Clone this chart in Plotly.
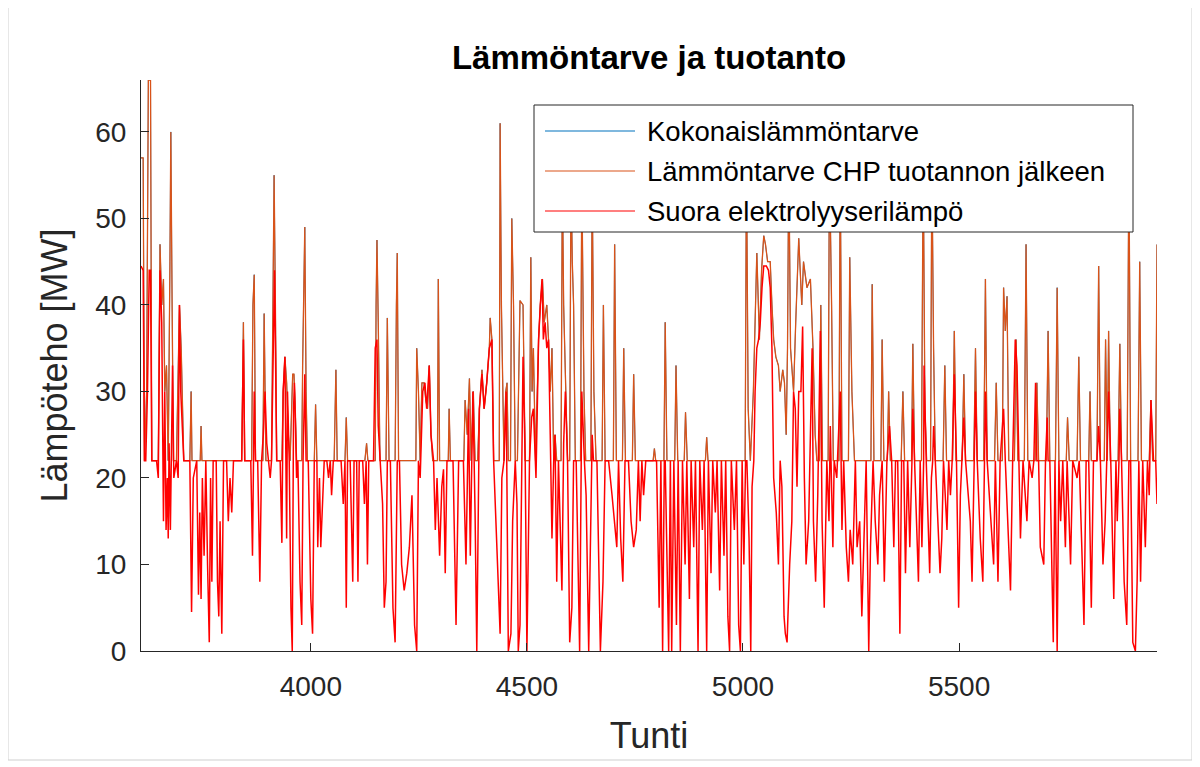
import plotly.graph_objects as go

# Lämmöntarve CHP tuotannon jälkeen (orange), hour / MW
hours_after_chp = [
    3607, 3612, 3615, 3620, 3624, 3629, 3632, 3647, 3651, 3655, 3659, 3662, 3666, 3670, 3674, 3676,
    3679, 3682, 3689, 3696, 3700, 3703, 3706, 3720, 3723, 3725, 3744, 3746, 3748, 3840, 3844, 3847,
    3863, 3866, 3869, 3872, 3889, 3892, 3896, 3909, 3912, 3915, 3918, 3921, 3933, 3936, 3940, 3944,
    3948, 3952, 3958, 3961, 3964, 3967, 3979, 3981, 3986, 3989, 3992, 4008, 4011, 4014, 4054, 4058,
    4061, 4079, 4082, 4085, 4125, 4129, 4132, 4149, 4151, 4153, 4156, 4160,
    4174, 4177, 4181, 4195, 4198, 4200, 4203, 4243, 4245, 4249, 4253, 4257, 4262, 4266, 4270, 4274,
    4278, 4282, 4293, 4295, 4298, 4318, 4320, 4323, 4354, 4357, 4362, 4367, 4371, 4376, 4380, 4386,
    4390, 4396, 4401, 4407, 4413, 4415, 4419, 4423, 4436, 4438, 4441, 4443, 4447, 4451, 4454, 4457,
    4462, 4465, 4469, 4473, 4478, 4484, 4491, 4496, 4506, 4509, 4512, 4515, 4520, 4524, 4527, 4531,
    4536, 4540, 4546, 4550, 4554, 4558, 4562, 4565, 4569, 4579, 4582, 4585, 4589, 4594, 4599, 4602,
    4605, 4608, 4612, 4624, 4627, 4632, 4636, 4648, 4651, 4655, 4660, 4674, 4677, 4681, 4700, 4703,
    4707, 4721, 4724, 4728, 4744, 4747, 4751,
    4792, 4795, 4798, 4817, 4820, 4824, 4842, 4845, 4849, 4864, 4867, 4871, 4913, 4916, 4919, 5005,
    5008, 5012, 5017, 5024, 5029, 5032, 5038, 5043, 5048, 5052, 5057, 5063, 5067, 5071, 5076, 5082,
    5086, 5092, 5096, 5100, 5103, 5106, 5110, 5117, 5122, 5129, 5136, 5140, 5148, 5156, 5162, 5167,
    5171, 5177, 5180, 5184, 5197, 5200, 5205, 5209, 5222, 5225, 5229, 5244, 5247, 5252, 5258, 5296,
    5299, 5303, 5319, 5322, 5326, 5334, 5337, 5341,
    5366, 5370, 5374, 5390, 5393, 5397, 5413, 5417, 5421, 5425, 5434, 5437, 5441, 5445, 5463, 5467,
    5471, 5485, 5489, 5493, 5507, 5511, 5515, 5534, 5538, 5542, 5557, 5561, 5565, 5582, 5586, 5590,
    5600, 5603, 5607, 5611, 5615, 5628, 5632, 5636, 5651, 5655, 5659, 5676, 5680, 5684, 5702, 5706,
    5710, 5723, 5727, 5731, 5748, 5751, 5755, 5773, 5777, 5781, 5800, 5803, 5806, 5819, 5823, 5827,
    5836, 5839, 5843, 5846, 5850, 5868, 5872, 5876, 5889, 5893, 5897, 5914, 5918, 5922, 5940, 5944,
    5948, 5955, 5958,
]
demand_after_chp = [
    57, 57, 22, 30, 66, 66, 22, 22, 47, 40, 43, 30, 33, 22, 45, 60,
    40, 22, 22, 40, 35, 27, 22, 22, 30, 22, 22, 26, 22, 22, 38, 22,
    22, 40, 43.5, 22, 22, 39, 22, 22, 40, 55, 40, 22, 22, 30, 34, 31,
    25, 22, 32, 32, 28, 22, 22, 33, 49, 30, 22, 22, 28.5, 22, 22, 32.5,
    22, 22, 27, 22, 22, 24, 22, 22, 40, 47.5, 38, 22,
    22, 38.5, 22, 22, 40, 46, 22, 22, 35, 30, 22, 31, 31, 29, 28, 33,
    25, 22, 22, 43, 22, 22, 28, 22, 22, 29, 25, 31.5, 22, 30, 22, 22,
    28, 32.5, 28, 31, 35, 38.5, 36, 22, 22, 61, 40, 35, 22, 30, 31, 22,
    22, 50, 40, 22, 22, 40.5, 40, 22, 22, 45.5, 30, 35, 22, 30, 36, 40,
    43, 38, 40, 36, 30, 35, 22, 25, 22, 22, 55, 40, 32, 22, 22, 55,
    45, 40, 22, 22, 55, 30, 22, 22, 55, 30, 22, 22, 40, 22, 22, 47,
    22, 22, 35, 22, 22, 32, 22,
    22, 23.4, 22, 22, 38, 22, 22, 33, 22, 22, 27.6, 22, 22, 24.7, 22, 22,
    57, 28, 22, 30, 40, 46, 36, 44, 48, 47, 45, 45, 40, 36, 34, 33,
    30, 32.5, 31, 25, 35, 57, 35, 30, 38, 47.7, 40, 45, 42, 43, 35, 25,
    22, 22, 40, 22, 22, 57, 40, 22, 22, 57, 22, 22, 45.5, 30, 22, 22,
    42.4, 22, 22, 36, 22, 22, 30, 22,
    22, 30, 22, 22, 35.5, 22, 22, 57, 28, 22, 22, 57, 35, 22, 22, 33,
    22, 22, 37, 22, 22, 32, 22, 22, 35, 22, 22, 43, 22, 22, 31, 22,
    22, 42, 37, 41, 22, 22, 36, 22, 22, 47, 22, 22, 31, 22, 22, 37,
    22, 22, 42, 22, 22, 27, 22, 22, 34, 22, 22, 30, 22, 22, 44.5, 22,
    22, 36, 22, 37, 22, 22, 35.5, 22, 22, 57, 22, 22, 45, 22, 22, 29,
    22, 22, 47,
]

# Suora elektrolyyserilämpö (red), hour / MW
hours_electrolyser = [
    3607, 3612, 3615, 3618, 3622, 3626, 3629, 3632, 3643, 3647, 3651, 3655, 3659, 3662, 3665, 3668,
    3670, 3672, 3675, 3678, 3680, 3683, 3689, 3693, 3696, 3699, 3703, 3706, 3720, 3724, 3728, 3736,
    3740, 3743, 3746, 3749, 3753, 3757, 3761, 3765, 3768, 3771, 3774, 3781, 3784, 3787, 3790, 3794,
    3798, 3805, 3809, 3813, 3817, 3821, 3840, 3844, 3847, 3861, 3865, 3869, 3872, 3877, 3882, 3886,
    3890, 3894, 3898, 3902, 3906, 3909, 3913, 3916, 3921, 3929, 3933, 3936, 3940, 3944, 3946, 3950,
    3954, 3957, 3960, 3962, 3964, 3967, 3970, 3975, 3979, 3982, 3986, 3989, 3994, 4000, 4004, 4008,
    4014, 4016, 4020, 4023, 4027, 4031, 4037, 4041, 4045, 4048, 4052, 4070, 4075, 4079, 4082, 4085,
    4091, 4097, 4100, 4106, 4109, 4112, 4120, 4124, 4128, 4131, 4134, 4145, 4149, 4153, 4156, 4160,
    4166, 4170, 4174, 4177, 4184, 4190, 4195, 4200, 4205, 4210, 4216, 4222, 4228, 4234, 4240, 4245,
    4249, 4253, 4259, 4264, 4268, 4274, 4278, 4284, 4288, 4292, 4298, 4303, 4307, 4311, 4315, 4329,
    4336, 4342, 4353, 4359, 4365, 4369, 4375, 4380, 4384, 4390, 4396, 4401, 4407, 4413, 4419, 4423,
    4429, 4434, 4438, 4442, 4447, 4452, 4457, 4463, 4467, 4473, 4477, 4480, 4484, 4491, 4496, 4500,
    4506, 4511, 4515, 4521, 4527, 4531, 4535, 4538, 4542, 4546, 4550, 4554, 4558, 4562, 4565, 4569,
    4573, 4581, 4585, 4589, 4594, 4599, 4604, 4608, 4614, 4622, 4627, 4633, 4637, 4643, 4651, 4654,
    4662, 4670, 4676, 4681, 4689, 4697, 4702, 4708, 4712, 4717, 4722, 4727, 4735, 4741, 4747, 4753,
    4758, 4762, 4766, 4770, 4775, 4800, 4806, 4810, 4814, 4818, 4820, 4824, 4828, 4832, 4835, 4840,
    4846, 4850, 4855, 4860, 4866, 4870, 4876, 4880, 4886, 4890, 4896, 4900, 4906, 4910, 4916, 4920,
    4926, 4930, 4936, 4940, 4946, 4950, 4956, 4960, 4965, 4969, 4973, 4980, 4985, 4990, 4994, 4998,
    5002, 5006, 5009, 5014, 5018, 5021, 5025, 5028, 5032, 5036, 5040, 5044, 5048, 5054, 5059, 5063,
    5067, 5071, 5077, 5082, 5086, 5090, 5095, 5098, 5102, 5108, 5113, 5117, 5121, 5125, 5129, 5134,
    5138, 5142, 5146, 5152, 5156, 5160, 5163, 5168, 5173, 5179, 5183, 5188, 5194, 5199, 5202, 5208,
    5211, 5217, 5225, 5229, 5233, 5239, 5244, 5248, 5254, 5260, 5264, 5270, 5275, 5281, 5285, 5291,
    5295, 5301, 5306, 5312, 5316, 5322, 5327, 5333, 5339, 5344,
    5349, 5353, 5358, 5363, 5367, 5372, 5376, 5381, 5386, 5391, 5393, 5397, 5406, 5410, 5414, 5418,
    5419, 5424, 5432, 5436, 5439, 5441, 5445, 5456, 5460, 5464, 5472, 5476, 5480, 5484, 5489, 5494,
    5499, 5503, 5507, 5511, 5515, 5526, 5530, 5534, 5538, 5542, 5549, 5555, 5558, 5561, 5565, 5580,
    5584, 5590, 5595, 5603, 5607, 5613, 5619, 5624, 5630, 5634, 5638, 5642, 5648, 5657, 5662, 5669,
    5673, 5677, 5680, 5684, 5688, 5696, 5700, 5704, 5706, 5710, 5718, 5722, 5727, 5731, 5735, 5740,
    5746, 5750, 5758, 5763, 5773, 5778, 5784, 5789, 5794, 5800, 5806, 5811, 5819, 5823, 5827, 5833,
    5838, 5842, 5846, 5851, 5858, 5863, 5866, 5870, 5872, 5876, 5882, 5888, 5893, 5897, 5902, 5908,
    5912, 5916, 5920, 5925, 5931, 5936, 5940, 5944, 5950, 5955, 5958,
]
electrolyser_heat = [
    44.5, 44, 22, 22, 30, 44, 44, 22, 22, 20, 44, 38, 15, 30, 14, 20,
    13, 24, 14, 28, 33, 20, 22, 20, 40, 30, 25, 22, 22, 4.5, 20, 22,
    6.5, 16, 6, 20, 11, 22, 10, 1, 20, 8, 22, 22, 8, 4, 15, 2,
    22, 22, 15, 20, 16, 22, 22, 36, 22, 22, 11, 30, 22, 22, 8, 22,
    25, 30, 24, 22, 20, 22, 35, 44, 22, 22, 12.5, 30, 34, 13, 30, 22,
    5, 0, 28, 31, 27, 20, 22, 8, 3, 22, 32, 22, 22, 6, 2, 22,
    22, 12, 20, 12, 17, 22, 22, 20, 22, 18, 22, 22, 17, 22, 5, 22,
    22, 8, 22, 22, 8, 22, 22, 17, 22, 10, 22, 22, 35, 36, 26, 22,
    17, 5, 8, 22, 22, 5, 1, 22, 22, 10, 7, 9, 12, 18, 3, 0,
    22, 20, 30, 31, 28, 33, 25, 22, 14, 20, 11, 19, 21, 9, 22, 22,
    3, 22, 22, 10, 28, 11, 30, 16, 0, 28, 32, 28, 31, 35, 36, 22,
    14, 6, 2, 20, 22, 30, 0, 2, 15, 22, 17, 0, 3, 34, 22, 0,
    22, 27, 28, 20, 36, 40, 43, 36, 38, 35, 36, 25, 13, 22, 25, 8,
    22, 7, 24, 30, 22, 1, 5, 22, 22, 0, 30, 22, 18, 0, 25, 22,
    22, 0, 8, 22, 22, 18, 15, 12, 22, 13, 8, 22, 22, 15, 12, 14,
    22, 15, 22, 18, 22, 22, 5, 22, 0, 22, 22, 8, 0, 22, 0, 22,
    3, 22, 0, 22, 10, 22, 6, 22, 12, 22, 0, 22, 14, 22, 0, 22,
    9, 22, 16, 22, 7, 22, 11, 22, 4, 0, 22, 14, 22, 3, 0, 22,
    10, 22, 22, 13, 0, 19, 22, 30, 35, 36, 38, 42, 44.5, 44.5, 44, 42,
    35, 20, 16, 10, 22, 19, 4, 2, 1, 10, 15, 30, 28, 19, 30, 30,
    37.5, 20, 10, 15, 27, 35, 15, 8, 18, 37, 15, 5, 22, 15, 26, 12,
    22, 20, 30, 14, 22, 12, 8, 14, 10, 22, 12, 15, 4, 15, 22, 0,
    12, 22, 15, 10, 18, 22, 8, 22, 26, 22,
    12, 22, 22, 2, 22, 22, 9, 22, 12, 22, 28, 22, 8, 22, 12, 22,
    33, 22, 9, 20, 22, 26, 22, 9, 13, 22, 14, 22, 18, 22, 32, 22,
    5, 18, 22, 27, 22, 15, 8, 22, 30, 22, 13, 8, 22, 30, 22, 10,
    22, 8, 22, 28, 22, 15, 7, 22, 36, 33, 22, 13, 22, 15, 22, 20,
    22, 31, 22, 22, 12, 10, 22, 27, 22, 22, 1, 22, 0, 22, 15, 22,
    12, 22, 10, 22, 20, 22, 12, 3, 22, 22, 5, 22, 22, 26, 22, 10,
    15, 22, 30, 22, 6, 22, 15, 22, 28, 22, 8, 3, 22, 22, 1, 0,
    8, 22, 8, 22, 12, 22, 18, 29, 22, 22, 17,
]

# Kokonaislämmöntarve (blue) lies completely under the orange curve in this period
hours_total = hours_after_chp
total_demand = demand_after_chp

series_names = ["Kokonaislämmöntarve", "Lämmöntarve CHP tuotannon jälkeen", "Suora elektrolyyserilämpö"]
series_colors = ["#0072BD", "#D95319", "#FF0000"]
series_widths = [0.8, 1.3, 1.5]
x_ticks = [4000, 4500, 5000, 5500]
y_ticks = [0, 10, 20, 30, 40, 50, 60]

FONT = "Liberation Sans, Arial, Helvetica, sans-serif"
AX = "#262626"

# the page puts the figure 8 px in from the top-left corner
OFF = 8
W, H = 1200, 767
# plot area in page pixels
L, R, T, B = 141, 1157, 80, 651


def px_x(p):
    return (p - L) / (R - L)


def px_y(p):
    return (B - p) / (B - T)


fig = go.Figure()
for hx, hy, name, col, lw in zip([hours_total, hours_after_chp, hours_electrolyser],
                                 [total_demand, demand_after_chp, electrolyser_heat],
                                 series_names, series_colors, series_widths):
    fig.add_trace(go.Scatter(x=hx, y=hy, mode="lines", name=name,
                             line=dict(color=col, width=lw), showlegend=False))

fig.update_layout(
    width=W, height=H,
    margin=dict(l=L - OFF, r=W - (R - OFF), t=T - OFF, b=H - (B - OFF)),
    paper_bgcolor="white", plot_bgcolor="white",
    font=dict(family=FONT, color=AX),
    title=dict(text="<b>Lämmöntarve ja tuotanto</b>", x=0.5, xref="paper",
               y=1 - (57 - OFF) / H, yref="container", xanchor="center", yanchor="middle",
               font=dict(size=33, color="black", family=FONT)),
    xaxis=dict(range=[hours_after_chp[0], hours_after_chp[-1]], tickvals=x_ticks,
               showgrid=False, zeroline=False, showline=True, linecolor=AX, linewidth=1,
               ticks="inside", ticklen=8, tickcolor=AX, ticklabelstandoff=10,
               tickfont=dict(size=28, color=AX),
               title=dict(text="Tunti", font=dict(size=36, color=AX), standoff=22)),
    yaxis=dict(range=[0, 66], tickvals=y_ticks,
               showgrid=False, zeroline=False, showline=True, linecolor=AX, linewidth=1,
               ticks="inside", ticklen=8, tickcolor=AX, ticklabelstandoff=8,
               tickfont=dict(size=28, color=AX),
               title=dict(text="Lämpöteho [MW]", font=dict(size=36, color=AX), standoff=16)),
)

# legend box drawn like the MATLAB one
shapes = [
    dict(type="rect", xref="paper", yref="paper", x0=px_x(534), x1=px_x(1133), y0=px_y(232), y1=px_y(105),
         fillcolor="white", line=dict(color=AX, width=1), layer="above"),
    # outer figure frame
    dict(type="rect", xref="paper", yref="paper", x0=px_x(8), x1=px_x(1192), y0=px_y(760), y1=px_y(-4),
         fillcolor="rgba(0,0,0,0)", line=dict(color="#cfcfcf", width=1), layer="below"),
]
annotations = []
for row_y, name, col in zip([131, 171, 211], series_names, series_colors):
    shapes.append(dict(type="line", xref="paper", yref="paper", x0=px_x(545), x1=px_x(635),
                       y0=px_y(row_y), y1=px_y(row_y), line=dict(color=col, width=1.2), layer="above"))
    annotations.append(dict(text=name, xref="paper", yref="paper", x=px_x(645), y=px_y(row_y),
                            xanchor="left", yanchor="middle", showarrow=False,
                            font=dict(size=27.5, color="black", family=FONT)))
fig.update_layout(shapes=shapes, annotations=annotations)

fig.write_html("out.html")
